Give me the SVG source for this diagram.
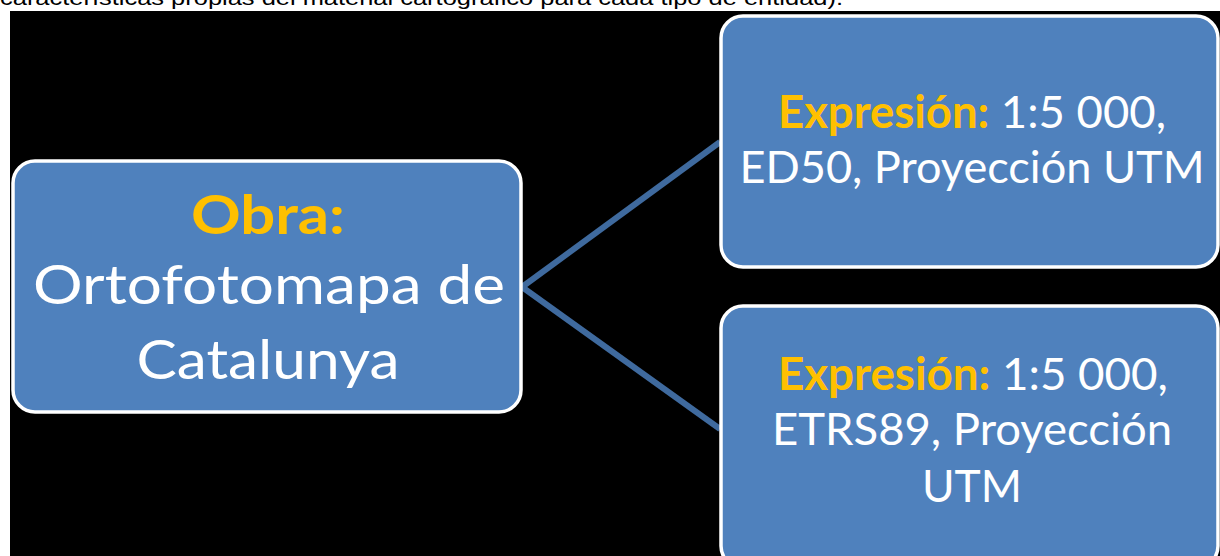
<svg xmlns="http://www.w3.org/2000/svg" width="1220" height="556" viewBox="0 0 1220 556">
<style>
.box{fill:#4F81BD;stroke:#FFFFFF;stroke-width:3.5}
.t{font-family:Lato,"Open Sans","Liberation Sans",sans-serif;fill:#FFFFFF;text-anchor:middle}
.g{fill:#FFC000;font-weight:bold}
.conn{stroke:#3F6A9E;stroke-width:6;fill:none;stroke-linecap:butt}
.cap{font-family:"Liberation Sans",Arial,sans-serif;font-size:21px;fill:#000000}
</style>
<rect x="0" y="0" width="1220" height="556" fill="#FFFFFF"/>
<text class="cap" x="0" y="5" textLength="843" lengthAdjust="spacingAndGlyphs">características propias del material cartográfico para cada tipo de entidad).</text>
<rect x="10" y="11" width="1210" height="545" fill="#000000"/>
<g id="connectors">
<line class="conn" x1="522" y1="287" x2="720" y2="142"/>
<line class="conn" x1="522" y1="287" x2="720" y2="429"/>
</g>
<g id="obra">
<rect class="box" x="13" y="161" width="508" height="251" rx="22" ry="22"/>
<text class="t g" x="268" y="234" font-size="54" textLength="154" lengthAdjust="spacingAndGlyphs">Obra:</text>
<text class="t" x="269" y="304" font-size="54" textLength="472" lengthAdjust="spacingAndGlyphs">Ortofotomapa de</text>
<text class="t" x="268" y="379" font-size="54" textLength="263" lengthAdjust="spacingAndGlyphs">Catalunya</text>
</g>
<g id="expresion1">
<rect class="box" x="721" y="16" width="497" height="251" rx="22" ry="22"/>
<text class="t" x="972" y="128" font-size="45" textLength="388" lengthAdjust="spacingAndGlyphs"><tspan class="g">Expresión:</tspan> 1:5 000,</text>
<text class="t" x="972" y="183" font-size="45" textLength="465" lengthAdjust="spacingAndGlyphs">ED50, Proyección UTM</text>
</g>
<g id="expresion2">
<rect class="box" x="721" y="306" width="497" height="262" rx="22" ry="22"/>
<text class="t" x="973" y="390" font-size="45" textLength="390" lengthAdjust="spacingAndGlyphs"><tspan class="g">Expresión:</tspan> 1:5 000,</text>
<text class="t" x="972" y="445" font-size="45" textLength="400" lengthAdjust="spacingAndGlyphs">ETRS89, Proyección</text>
<text class="t" x="972" y="502" font-size="45" textLength="100" lengthAdjust="spacingAndGlyphs">UTM</text>
</g>
</svg>
